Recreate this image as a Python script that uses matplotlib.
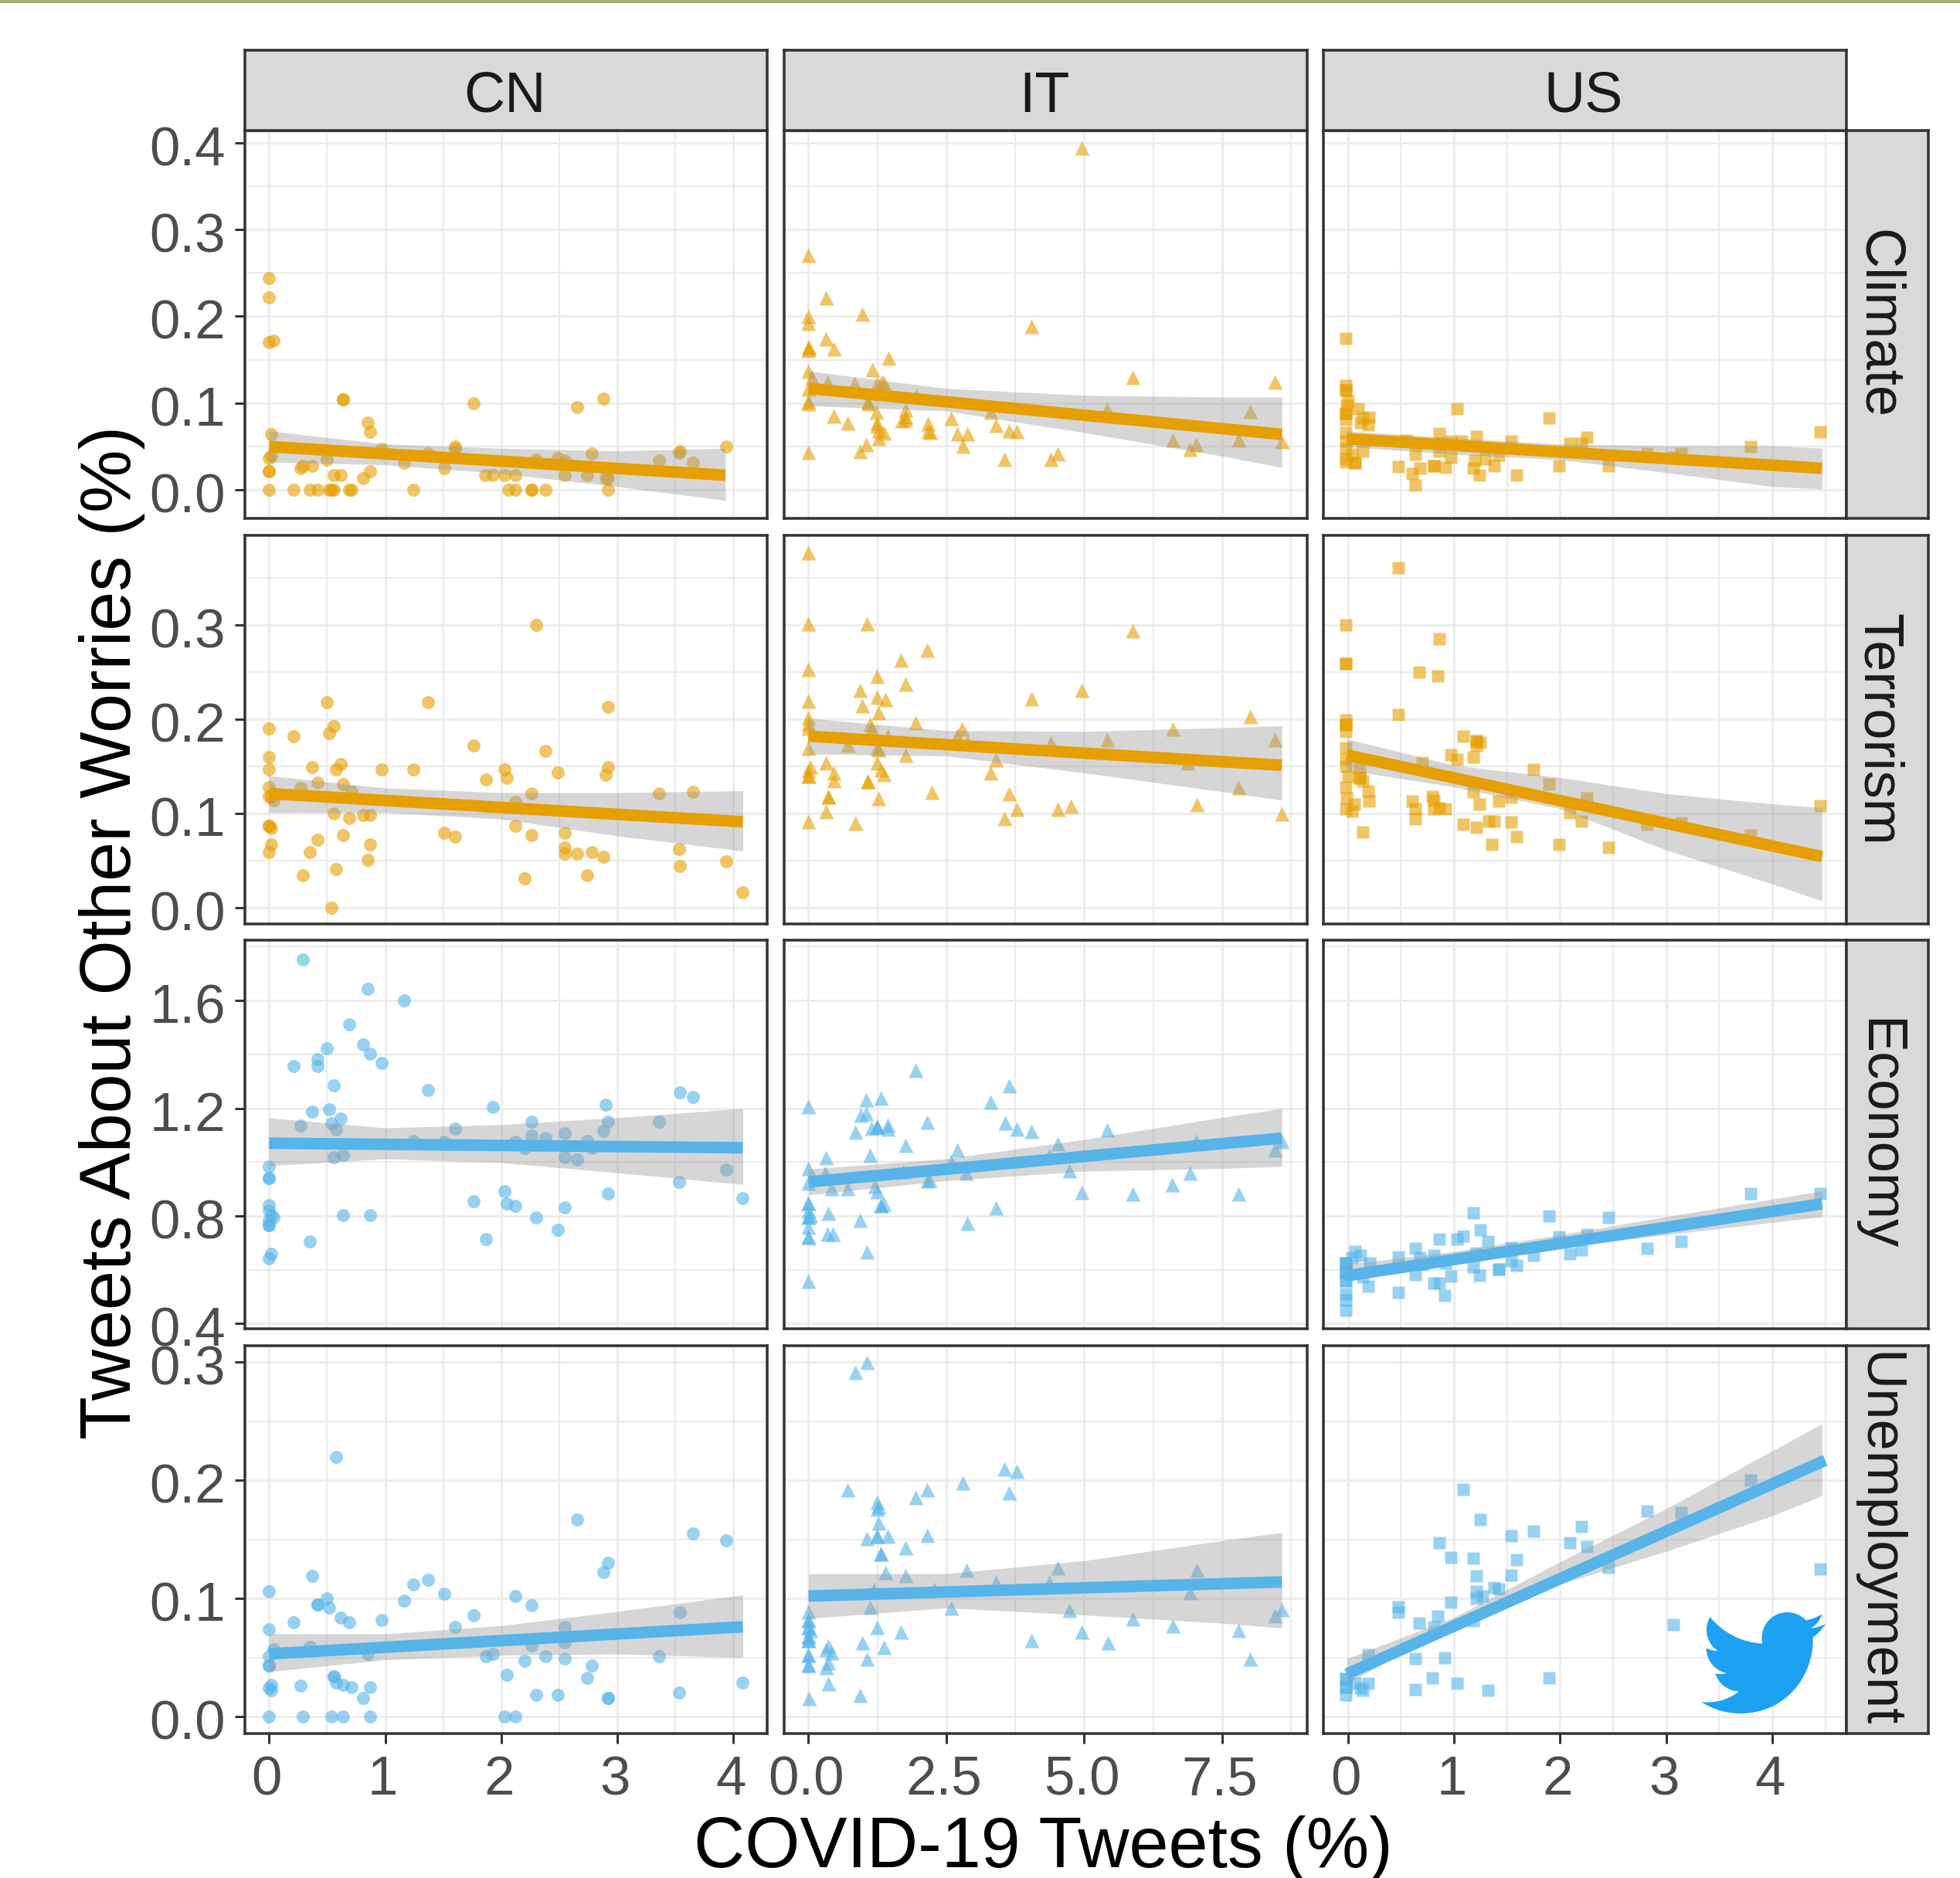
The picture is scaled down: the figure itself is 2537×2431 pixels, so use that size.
import re
import matplotlib
matplotlib.use("Agg")
import matplotlib.pyplot as plt
from matplotlib.path import Path
from matplotlib.patches import PathPatch, Rectangle
from matplotlib.ticker import FixedLocator, MultipleLocator
from matplotlib.transforms import ScaledTranslation

plt.rcParams['font.family'] = ['Liberation Sans', 'DejaVu Sans']

countries = ['CN', 'IT', 'US']
topics = ['Climate', 'Terrorism', 'Economy', 'Unemployment']
x_ticks_cn = [0, 1, 2, 3, 4]
x_ticks_it = [0.0, 2.5, 5.0, 7.5]
x_ticks_us = [0, 1, 2, 3, 4]
x_labels_cn = ['0', '1', '2', '3', '4']
x_labels_it = ['0.0', '2.5', '5.0', '7.5']
x_labels_us = ['0', '1', '2', '3', '4']
y_ticks_climate = [0.0, 0.1, 0.2, 0.3, 0.4]
y_ticks_terrorism = [0.0, 0.1, 0.2, 0.3]
y_ticks_economy = [0.4, 0.8, 1.2, 1.6]
y_ticks_unemployment = [0.0, 0.1, 0.2, 0.3]

# ---- scatter values (COVID-19 tweets %, other worry tweets %) ----
cn_climate = [(0,.244),(0,.222),(0,.170),(.04,.172),(.64,.104),(.64,.104),(1.76,.100),(2.65,.095),(2.88,.105),
 (.85,.078),(.87,.067),(.02,.064),(0,.037),(.02,.039),(0,.022),(0,.022),(.29,.028),(.27,.025),(.37,.028),(.50,.035),
 (.97,.047),(1.16,.031),(.87,.022),(.81,.014),(.56,.017),(.62,.017),(1.37,.042),(1.51,.025),(1.60,.050),(1.60,.047),
 (1.86,.017),(1.93,.017),(2.03,.017),(2.12,.017),(2.55,.017),(2.74,.017),(2.78,.042),(2.49,.037),(2.55,.034),(2.30,.035),
 (2.90,.014),(2.92,.014),(3.36,.034),(3.53,.043),(3.54,.045),(3.65,.031),(3.94,.050),
 (0,0),(.21,0),(.35,0),(.42,0),(.52,0),(.54,0),(.56,0),(.69,0),(.71,0),(1.24,0),(2.06,0),(2.12,0),(2.26,0),(2.26,0),(2.38,0),(2.92,0)]
cn_terrorism = [(2.30,.300),(.50,.218),(1.37,.218),(2.92,.213),(0,.190),(.56,.193),(.52,.185),(.21,.182),(1.76,.172),(2.38,.166),
 (0,.160),(0,.147),(.37,.149),(.62,.152),(.58,.147),(.97,.147),(1.24,.147),(2.03,.147),(2.05,.138),(2.49,.143),(2.92,.149),
 (2.90,.141),(1.87,.136),(.42,.133),(.64,.131),(0,.128),(.71,.123),(.27,.127),(0,.118),(.02,.118),(.04,.114),(2.26,.121),
 (2.12,.112),(3.36,.121),(3.65,.123),(.56,.100),(.69,.095),(.81,.098),(.87,.098),(0,.087),(0,.087),(.02,.084),(2.12,.087),
 (1.51,.079),(1.60,.075),(.64,.077),(2.26,.077),(2.55,.079),(.42,.072),(.87,.067),(.02,.067),(0,.059),(.35,.059),(2.55,.064),
 (2.55,.057),(2.65,.057),(2.78,.059),(2.88,.054),(3.53,.062),(.85,.051),(3.54,.044),(3.94,.049),(.58,.041),(.29,.034),
 (2.20,.031),(2.74,.034),(4.08,.016),(.54,0)]
cn_economy = [(.29,1.751),(.85,1.644),(1.16,1.600),(.69,1.510),(.81,1.438),(.50,1.421),(.87,1.403),(.42,1.383),(.42,1.357),
 (.21,1.357),(.97,1.367),(.56,1.285),(1.37,1.268),(3.54,1.259),(3.65,1.241),(2.90,1.213),(1.93,1.205),(.52,1.196),(.37,1.187),
 (.62,1.161),(2.26,1.151),(.54,1.144),(2.92,1.151),(.27,1.135),(3.36,1.151),(.58,1.122),(1.60,1.125),(2.55,1.108),(2.88,1.116),
 (2.26,1.097),(2.38,1.089),(1.24,1.079),(1.51,1.075),(2.12,1.075),(2.74,1.079),(2.20,1.051),(2.78,1.051),(.56,1.017),(.64,1.027),
 (2.55,1.017),(2.65,1.008),(0,.984),(0,.941),(0,.941),(3.94,.972),(3.53,.926),(2.03,.893),(2.92,.883),(1.76,.855),(2.05,.846),
 (2.12,.838),(2.55,.831),(4.08,.865),(2.30,.794),(.64,.802),(.87,.802),(0,.840),(0,.819),(.02,.802),(.04,.794),(0,.783),(0,.764),
 (0,.764),(2.49,.749),(1.87,.713),(.35,.704),(.02,.660),(0,.641)]
cn_unemployment = [(.58,.220),(2.65,.167),(3.65,.155),(3.94,.149),(2.92,.130),(2.88,.122),(.37,.119),(1.24,.112),(1.37,.116),
 (0,.106),(1.51,.104),(2.12,.102),(.50,.100),(.42,.095),(.42,.095),(.52,.092),(1.16,.098),(2.26,.094),(.62,.084),(.69,.080),
 (.97,.082),(1.76,.086),(.21,.080),(0,.074),(1.60,.076),(3.54,.088),(2.55,.076),(2.55,.063),(.04,.057),(.35,.059),(2.26,.060),
 (.85,.053),(1.93,.053),(1.87,.051),(2.38,.051),(3.36,.051),(2.20,.047),(2.55,.049),(0,.051),(0,.043),(0,.043),(2.78,.043),
 (.56,.034),(.56,.034),(2.05,.035),(2.74,.033),(.58,.029),(.64,.027),(.71,.025),(.87,.025),(.02,.027),(0,.024),(.02,.022),
 (.27,.026),(.81,.016),(2.30,.018),(2.49,.018),(2.92,.016),(2.92,.016),(3.53,.020),(4.08,.029),
 (0,0),(.29,0),(.54,0),(.64,0),(.87,0),(2.03,0),(2.12,0)]

it_climate = [(4.95,.394),(0,.271),(.32,.222),(.97,.203),(0,.200),(0,.192),(4.04,.189),(.31,.175),(.45,.163),(0,.164),(.01,.165),
 (0,.161),(1.45,.152),(1.15,.139),(0,.137),(5.87,.130),(8.45,.125),(.06,.130),(.34,.125),(.84,.123),(1.32,.125),(1.37,.124),
 (1.24,.123),(0,.117),(0,.103),(0,.100),(1.95,.109),(1.07,.102),(1.09,.100),(1.23,.090),(1.76,.093),(1.76,.085),(1.69,.080),
 (1.76,.081),(.45,.086),(.71,.078),(1.24,.078),(1.24,.074),(2.59,.083),(2.16,.077),(3.30,.090),(5.41,.094),(8.01,.091),(3.40,.075),
 (3.64,.069),(3.78,.068),(2.16,.068),(2.21,.067),(2.69,.065),(2.88,.065),(1.27,.069),(1.37,.066),(1.27,.060),(6.61,.058),(7.79,.058),
 (7.02,.053),(8.58,.056),(6.91,.047),(0,.044),(1.05,.053),(.93,.045),(2.80,.051),(3.55,.036),(4.52,.042),(4.39,.036)]
it_terrorism = [(0,.377),(0,.302),(1.06,.302),(5.87,.294),(2.15,.274),(1.67,.263),(0,.253),(1.24,.246),(1.76,.238),(.93,.231),
 (4.95,.231),(4.04,.222),(1.24,.224),(1.40,.221),(0,.220),(.97,.215),(1.27,.207),(0,.202),(0,.196),(1.94,.197),(8.01,.203),(1.11,.195),
 (0,.191),(1.14,.190),(2.78,.190),(6.61,.190),(2.69,.183),(1.43,.183),(5.41,.179),(8.45,.179),(2.88,.176),(4.39,.175),(.71,.173),
 (0,.170),(1.24,.170),(1.27,.168),(1.76,.162),(3.40,.157),(.04,.150),(.31,.154),(1.24,.154),(6.87,.154),(1.31,.147),(0,.146),(0,.140),
 (0,.140),(.45,.143),(1.37,.142),(3.30,.143),(.45,.135),(1.07,.134),(1.07,.134),(7.79,.128),(2.24,.123),(3.64,.121),(.36,.118),(.36,.118),
 (1.27,.116),(3.78,.105),(4.75,.108),(4.52,.105),(7.04,.110),(.31,.102),(8.58,.100),(0,.092),(3.55,.095),(.85,.090)]
it_economy = [(1.94,1.341),(3.64,1.285),(1.31,1.240),(1.05,1.233),(3.30,1.223),(0,1.206),(.95,1.175),(1.05,1.180),(2.15,1.151),
 (3.56,1.146),(3.78,1.125),(4.04,1.116),(1.24,1.132),(1.24,1.132),(1.24,1.132),(1.14,1.127),(1.43,1.137),(1.43,1.125),(.85,1.113),
 (1.76,1.065),(5.41,1.122),(4.52,1.070),(2.69,1.046),(1.11,1.027),(.31,1.017),(7.02,1.079),(8.58,1.079),(8.45,1.046),(4.36,1.027),
 (2.59,1.003),(0,.979),(4.73,.969),(.30,.960),(1.72,.965),(6.91,.960),(0,.922),(2.85,.960),(2.19,.936),(2.15,.931),(1.20,.912),
 (6.59,.917),(4.95,.888),(5.87,.883),(7.79,.883),(.42,.902),(.71,.902),(1.24,.893),(0,.850),(0,.850),(0,.797),(0,.797),(0,.821),
 (.04,.802),(1.31,.840),(1.31,.840),(1.37,.845),(.36,.811),(3.40,.831),(.93,.785),(2.88,.775),(0,.759),(0,.721),(0,.721),(.34,.735),
 (.44,.735),(1.06,.668),(0,.558)]
it_unemployment = [(1.06,.300),(.85,.292),(.71,.192),(3.55,.210),(3.78,.208),(2.80,.198),(3.64,.190),(2.15,.192),(1.94,.186),(1.24,.182),
 (1.27,.178),(1.24,.176),(1.27,.164),(1.43,.153),(2.15,.154),(1.24,.153),(1.24,.153),(1.06,.151),(1.76,.143),(1.31,.138),(1.31,.138),
 (2.87,.124),(4.52,.126),(7.04,.124),(1.40,.122),(1.76,.120),(3.40,.114),(4.36,.114),(1.18,.108),(2.27,.108),(6.91,.105),(1.11,.093),
 (2.59,.092),(4.73,.090),(8.58,.091),(8.45,.086),(5.87,.083),(6.61,.077),(1.24,.076),(7.79,.073),(1.67,.072),(4.95,.072),(0,.089),
 (0,.082),(0,.082),(0,.076),(0,.076),(.04,.073),(0,.068),(0,.068),(0,.065),(0,.065),(4.04,.065),(5.43,.063),(.97,.063),(1.37,.059),
 (.36,.060),(.31,.057),(.42,.054),(0,.052),(0,.052),(1.06,.049),(.36,.046),(0,.044),(0,.044),(.31,.042),(8.01,.049),(.36,.028),(.93,.018),(.01,.016)]

us_climate = [(-.02,.175),(-.02,.120),(-.02,.115),(-.02,.115),(0,.103),(-.01,.097),(.10,.094),(-.02,.088),(-.02,.088),(-.02,.081),
 (.14,.083),(.20,.084),(.12,.078),(.19,.075),(1.03,.094),(1.90,.083),(4.45,.067),(-.02,.066),(.86,.065),(-.02,.056),(1.21,.062),
 (1.54,.056),(2.25,.061),(2.09,.054),(2.20,.054),(3.80,.050),(.55,.057),(.97,.056),(1.07,.056),(.89,.054),(-.02,.047),(-.02,.036),
 (.14,.045),(.04,.041),(-.02,.032),(.07,.031),(.07,.031),(.48,.027),(.64,.041),(.86,.045),(.97,.038),(.81,.028),(.81,.028),(.68,.025),
 (.92,.026),(.61,.019),(1.18,.025),(1.20,.034),(1.30,.036),(1.42,.040),(1.38,.028),(1.24,.017),(1.59,.017),(1.99,.028),(2.46,.028),
 (2.82,.042),(3.14,.042),(3.06,.038),(.64,.006)]
us_terrorism = [(.48,.361),(-.02,.300),(.86,.285),(-.02,.259),(-.02,.259),(.67,.250),(.85,.246),(-.02,.194),(-.02,.194),(-.02,.199),
 (-.02,.187),(.48,.205),(1.09,.182),(1.21,.177),(1.21,.177),(1.25,.175),(1.21,.172),(-.02,.170),(-.02,.158),(.97,.162),(1.18,.160),
 (1.03,.157),(-.02,.150),(.11,.148),(.70,.154),(1.75,.147),(0,.139),(.11,.138),(.11,.138),(.14,.134),(1.90,.131),(-.02,.128),(.19,.124),
 (1.18,.123),(-.01,.116),(.20,.113),(.80,.118),(.61,.113),(.86,.106),(.81,.114),(1.42,.113),(1.24,.110),(1.54,.117),(2.25,.116),(-.02,.105),
 (.06,.110),(.04,.102),(4.45,.108),(.64,.105),(.92,.105),(.81,.105),(.64,.094),(2.09,.101),(2.20,.092),(1.09,.088),(1.21,.085),(1.33,.092),
 (1.38,.092),(1.54,.091),(2.82,.088),(3.14,.090),(3.80,.077),(.14,.080),(1.59,.075),(1.36,.067),(1.99,.067),(2.46,.064)]
us_economy = [(4.45,.883),(3.80,.883),(1.90,.799),(1.18,.811),(2.46,.794),(1.25,.749),(1.09,.725),(1.03,.713),(.86,.713),(1.32,.706),
 (1.99,.721),(2.25,.730),(3.14,.706),(2.82,.678),(2.20,.673),(2.09,.658),(.64,.678),(.48,.649),(.07,.668),(.12,.654),(.04,.644),
 (-.02,.625),(-.02,.625),(-.02,.625),(.21,.625),(.81,.654),(.68,.644),(1.21,.663),(1.54,.682),(1.75,.654),(1.54,.634),(1.59,.615),
 (1.42,.601),(1.42,.601),(1.24,.579),(1.18,.611),(.97,.577),(-.02,.591),(-.02,.591),(-.02,.591),(-.02,.558),(-.02,.558),(-.02,.510),
 (-.02,.486),(-.02,.450),(.14,.572),(.19,.539),(.48,.515),(.91,.505),(.81,.551),(.86,.551),(.64,.582),(.70,.620),(.92,.625)]
us_unemployment = [(1.09,.192),(1.25,.167),(2.82,.174),(3.14,.173),(2.20,.161),(1.75,.157),(1.54,.153),(2.09,.147),(2.25,.144),(.86,.147),
 (.97,.135),(1.18,.134),(1.59,.133),(3.80,.200),(4.45,.125),(2.46,.126),(1.54,.120),(1.21,.119),(1.42,.108),(1.38,.109),(1.21,.106),
 (1.27,.102),(.97,.097),(1.21,.100),(.48,.093),(.48,.088),(.85,.085),(.67,.079),(1.18,.081),(3.07,.078),(.81,.076),(.19,.052),(.64,.049),
 (.91,.050),(-.02,.032),(-.02,.032),(-.02,.025),(-.02,.025),(-.02,.018),(.07,.028),(.14,.022),(.19,.028),(.12,.024),(.80,.033),(.64,.023),
 (1.03,.028),(1.32,.022),(1.90,.033)]

# ---- fitted lines: x ends, y ends ----
cn_climate_fit = ([0, 3.93], [.050, .017])
cn_terrorism_fit = ([0, 4.08], [.121, .091])
cn_economy_fit = ([0, 4.08], [1.070, 1.053])
cn_unemployment_fit = ([0, 4.08], [.053, .076])
it_climate_fit = ([0, 8.58], [.117, .064])
it_terrorism_fit = ([0, 8.58], [.182, .151])
it_economy_fit = ([0, 8.58], [.926, 1.089])
it_unemployment_fit = ([0, 8.58], [.102, .114])
us_climate_fit = ([-.01, 4.47], [.059, .025])
us_terrorism_fit = ([-.01, 4.47], [.162, .054])
us_economy_fit = ([-.02, 4.47], [.577, .845])
us_unemployment_fit = ([-.01, 4.50], [.036, .217])

# ---- confidence bands: x, lower, upper ----
cn_climate_band = ([0, 1, 2, 3, 3.93], [.032, .029, .019, .004, -.012], [.068, .053, .048, .045, .048])
cn_terrorism_band = ([0, 1, 2, 3, 4.08], [.101, .101, .094, .076, .060], [.140, .127, .122, .122, .124])
cn_economy_band = ([0, 1, 2, 3, 4.08], [.986, 1.012, .998, .960, .917], [1.164, 1.127, 1.139, 1.165, 1.199])
cn_unemployment_band = ([0, 1, 2, 3, 4.08], [.038, .048, .052, .053, .050], [.070, .070, .077, .089, .103])
it_climate_band = ([0, 2.5, 5, 7.5, 8.58], [.097, .091, .066, .039, .026], [.137, .117, .109, .107, .107])
it_terrorism_band = ([0, 2.5, 5, 7.5, 8.58], [.163, .161, .143, .123, .114], [.201, .188, .187, .191, .193])
it_economy_band = ([0, 2.5, 5, 7.5, 8.58], [.878, .931, .966, .976, .984], [.974, 1.012, 1.084, 1.166, 1.199])
it_unemployment_band = ([0, 2.5, 5, 7.5, 8.58], [.083, .092, .086, .079, .075], [.121, .121, .132, .149, .156])
us_climate_band = ([-.01, 1, 2, 3, 4, 4.47], [.050, .041, .035, .020, .004, .001], [.068, .060, .053, .051, .051, .048])
us_terrorism_band = ([-.01, 1, 2, 3, 4, 4.47], [.146, .128, .105, .061, .025, .007], [.179, .151, .138, .121, .110, .106])
us_economy_band = ([-.02, 1, 2, 3, 4.47], [.558, .625, .682, .730, .797], [.620, .668, .730, .797, .893])
us_unemployment_band = ([-.01, 1, 2, 3, 4, 4.47], [.028, .077, .112, .140, .170, .187], [.049, .084, .131, .176, .225, .248])

W, H = 2537, 2431
fig = plt.figure(figsize=(W / 100, H / 100), dpi=100, facecolor='white')

def frac(x0, y0, x1, y1):
    return [x0 / W, 1 - y1 / H, (x1 - x0) / W, (y1 - y0) / H]

px = lambda v: v * 0.72
col_px = [(317, 993), (1015, 1692), (1713, 2390)]
row_px = [(169, 671), (693, 1196), (1217, 1720), (1742, 2244)]
xlims = [(-.208, 4.29), (-.44, 9.04), (-.23, 4.70)]
ylims = [(-.0327, .414), (-.0175, .3953), (.381, 1.824), (-.0144, .314)]
x_ticks = [x_ticks_cn, x_ticks_it, x_ticks_us]
x_labels = [x_labels_cn, x_labels_it, x_labels_us]
x_minor = [.5, 1.25, .5]
y_ticks = [y_ticks_climate, y_ticks_terrorism, y_ticks_economy, y_ticks_unemployment]
y_minor = [.05, .05, .2, .05]
markers = ['o', '^', 's']
msizes = [px(17), px(19), px(16)]
row_colors = ['#E69F00', '#E69F00', '#56B4E9', '#56B4E9']
BORDER = '#333333'
STRIP = '#D9D9D9'

points = [[cn_climate, it_climate, us_climate], [cn_terrorism, it_terrorism, us_terrorism],
          [cn_economy, it_economy, us_economy], [cn_unemployment, it_unemployment, us_unemployment]]
fits = [[cn_climate_fit, it_climate_fit, us_climate_fit], [cn_terrorism_fit, it_terrorism_fit, us_terrorism_fit],
        [cn_economy_fit, it_economy_fit, us_economy_fit], [cn_unemployment_fit, it_unemployment_fit, us_unemployment_fit]]
bands = [[cn_climate_band, it_climate_band, us_climate_band], [cn_terrorism_band, it_terrorism_band, us_terrorism_band],
         [cn_economy_band, it_economy_band, us_economy_band], [cn_unemployment_band, it_unemployment_band, us_unemployment_band]]

for r, (y0, y1) in enumerate(row_px):
    for c, (x0, x1) in enumerate(col_px):
        ax = fig.add_axes(frac(x0, y0, x1, y1))
        ax.set_xlim(*xlims[c])
        ax.set_ylim(*ylims[r])
        ax.set_axisbelow(True)
        ax.xaxis.set_major_locator(FixedLocator(x_ticks[c]))
        ax.xaxis.set_minor_locator(MultipleLocator(x_minor[c]))
        ax.yaxis.set_major_locator(FixedLocator(y_ticks[r]))
        ax.yaxis.set_minor_locator(MultipleLocator(y_minor[r]))
        ax.grid(True, which='major', color='#EBEBEB', lw=px(2.8))
        ax.grid(True, which='minor', color='#EBEBEB', lw=px(2.2))
        ax.tick_params(which='minor', length=0)
        ax.tick_params(which='major', length=px(13), width=px(3), color=BORDER,
                       labelcolor='#4D4D4D', labelsize=51)
        ax.tick_params(axis='x', pad=px(15), bottom=(r == 3), labelbottom=(r == 3))
        ax.tick_params(axis='y', pad=px(12), left=(c == 0), labelleft=(c == 0))
        if r == 3:
            ax.set_xticklabels(x_labels[c])
            nudge = ScaledTranslation(-3 / 100, 0, fig.dpi_scale_trans)
            for lab in ax.get_xticklabels():
                lab.set_transform(lab.get_transform() + nudge)
        if c == 0:
            ax.set_yticklabels([f'{v:.1f}' for v in y_ticks[r]])
            nudge = ScaledTranslation(0, -4 / 100, fig.dpi_scale_trans)
            for lab in ax.get_yticklabels():
                lab.set_transform(lab.get_transform() + nudge)
        for s in ax.spines.values():
            s.set_color(BORDER)
            s.set_linewidth(px(3.5))
            s.set_zorder(10)
        color = row_colors[r]
        xs, ys = zip(*points[r][c])
        ax.plot(xs, ys, ls='none', marker=markers[c], ms=msizes[c], mfc=color, mec='none',
                alpha=0.6, zorder=3)
        bx, blo, bhi = bands[r][c]
        ax.fill_between(bx, blo, bhi, color='#999999', alpha=0.4, lw=0, zorder=4)
        fx, fy = fits[r][c]
        ax.plot(fx, fy, color=color, lw=px(15), solid_capstyle='butt', zorder=5)

# facet strips
for c, (x0, x1) in enumerate(col_px):
    st = fig.add_axes(frac(x0, 65, x1, 169), facecolor=STRIP)
    st.set_xticks([]); st.set_yticks([])
    for s in st.spines.values():
        s.set_color(BORDER); s.set_linewidth(px(3.5))
    st.text(.497, .42, countries[c], transform=st.transAxes, ha='center', va='center',
            fontsize=53, color='#1A1A1A')
for r, (y0, y1) in enumerate(row_px):
    st = fig.add_axes(frac(2390, y0, 2496, y1), facecolor=STRIP)
    st.set_xticks([]); st.set_yticks([])
    for s in st.spines.values():
        s.set_color(BORDER); s.set_linewidth(px(3.5))
    st.text(.38, .5, topics[r], transform=st.transAxes, ha='center', va='center',
            rotation=-90, fontsize=52, color='#1A1A1A')

# axis titles
fig.text(1350 / W, 1 - 2393 / H, 'COVID-19 Tweets (%)', ha='center', va='center', fontsize=66, color='black')
fig.text(145 / W, 1 - 1207 / H, 'Tweets About Other Worries (%)', ha='center', va='center',
         rotation=90, fontsize=66, color='black')

# thin green line at the very top of the image
fig.add_artist(Rectangle((0, 1 - 4 / H), 1, 4 / H, transform=fig.transFigure, color='#9DAE77', lw=0))

# bird logo
LOGO = ("M22.46 6c-.77.35-1.6.58-2.46.69.88-.53 1.56-1.37 1.88-2.38-.83.5-1.75.85-2.72 1.05C18.37 4.5 17.26 4 16 4"
        "c-2.35 0-4.27 1.92-4.27 4.29 0 .34.04.67.11.98C8.28 9.09 5.11 7.38 3 4.79c-.37.63-.58 1.37-.58 2.15"
        " 0 1.49.75 2.81 1.91 3.56-.71 0-1.37-.2-1.95-.5v.03c0 2.08 1.48 3.82 3.44 4.21c-.62.17-1.28.2-1.93.07"
        "c.55 1.71 2.13 2.95 4 2.98c-1.46 1.15-3.31 1.84-5.33 1.84c-.34 0-.68-.02-1.02-.06C3.44 20.29 5.7 21 8.12 21"
        "C16 21 20.33 14.46 20.33 8.79c0-.19 0-.37-.01-.56.84-.6 1.56-1.36 2.14-2.23z")

def svg_path(d):
    verts, codes = [], []
    cur = (0.0, 0.0)
    for cmd, args in re.findall(r'([MCcvz])([^MCcvz]*)', d):
        n = [float(t) for t in re.findall(r'-?\d*\.?\d+', args)]
        if cmd == 'M':
            cur = (n[0], n[1]); verts.append(cur); codes.append(Path.MOVETO)
        elif cmd == 'v':
            cur = (cur[0], cur[1] + n[0]); verts.append(cur); codes.append(Path.LINETO)
        elif cmd in 'Cc':
            for i in range(0, len(n), 6):
                p = n[i:i + 6]
                ox, oy = cur if cmd == 'c' else (0, 0)
                pts = [(ox + p[0], oy + p[1]), (ox + p[2], oy + p[3]), (ox + p[4], oy + p[5])]
                verts += pts; codes += [Path.CURVE4] * 3
                cur = pts[-1]
        elif cmd == 'z':
            verts.append(verts[0]); codes.append(Path.CLOSEPOLY)
    return Path(verts, codes)

logo = fig.add_axes(frac(2198, 2087, 2363, 2218), zorder=20)
logo.set_xlim(1, 22.46)
logo.set_ylim(21, 4)
logo.axis('off')
logo.add_patch(PathPatch(svg_path(LOGO), facecolor='#1DA1F2', edgecolor='none'))

fig.savefig('out.png', dpi=100)
